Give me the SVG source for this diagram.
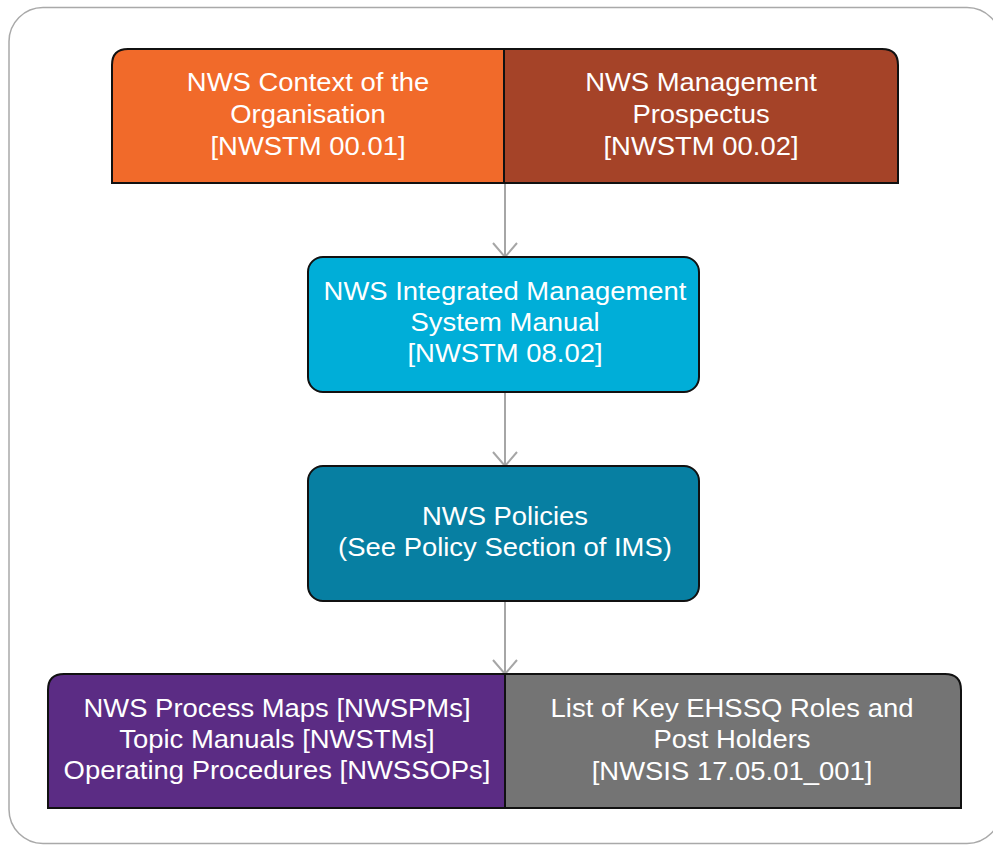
<svg xmlns="http://www.w3.org/2000/svg" width="993" height="845" viewBox="0 0 993 845">
  <defs>
    <style>
      .frame { fill: #ffffff; stroke: #a9a9a9; stroke-width: 1.5; }
      .box { stroke: #111111; stroke-width: 2; }
      .lbl { font-family: "Liberation Sans", Arial, Helvetica, sans-serif; font-size: 26px; fill: #ffffff; text-anchor: middle; }
      .conn { stroke: #a6a6a6; stroke-width: 2; fill: none; }
    </style>
  </defs>

  <!-- outer frame -->
  <rect class="frame" x="9" y="7.5" width="992" height="836" rx="34" ry="34"/>

  <!-- connectors: vertical lines with open V heads -->
  <g id="connectors">
    <line class="conn" x1="505" y1="183" x2="505" y2="257"/>
    <line class="conn" x1="505" y1="392" x2="505" y2="466"/>
    <line class="conn" x1="505" y1="601" x2="505" y2="674"/>
    <path class="conn" d="M493,243 L505,257 L517,243"/>
    <path class="conn" d="M493,452 L505,466 L517,452"/>
    <path class="conn" d="M493,660 L505,674 L517,660"/>
  </g>

  <!-- top pair -->
  <g id="context">
    <path class="box" fill="#f16a2a" d="M504,49 L128,49 Q112,49 112,65 L112,183 L504,183 Z"/>
    <g transform="translate(308,0) scale(1.055,1)">
      <text class="lbl" x="0" y="91">NWS Context of the</text>
      <text class="lbl" x="0" y="123">Organisation</text>
      <text class="lbl" x="0" y="155">[NWSTM 00.01]</text>
    </g>
  </g>
  <g id="prospectus">
    <path class="box" fill="#a54328" d="M504,49 L882,49 Q898,49 898,65 L898,183 L504,183 Z"/>
    <g transform="translate(701,0) scale(1.055,1)">
      <text class="lbl" x="0" y="91">NWS Management</text>
      <text class="lbl" x="0" y="123">Prospectus</text>
      <text class="lbl" x="0" y="155">[NWSTM 00.02]</text>
    </g>
  </g>

  <!-- manual -->
  <g id="ims-manual">
    <rect class="box" fill="#00aed8" x="308" y="257" width="391" height="135" rx="15" ry="15"/>
    <g transform="translate(505,0) scale(1.055,1)">
      <text class="lbl" x="0" y="300">NWS Integrated Management</text>
      <text class="lbl" x="0" y="331">System Manual</text>
      <text class="lbl" x="0" y="362">[NWSTM 08.02]</text>
    </g>
  </g>

  <!-- policies -->
  <g id="policies">
    <rect class="box" fill="#077fa2" x="308" y="466" width="391" height="135" rx="15" ry="15"/>
    <g transform="translate(505,0) scale(1.055,1)">
      <text class="lbl" x="0" y="525">NWS Policies</text>
      <text class="lbl" x="0" y="556">(See Policy Section of IMS)</text>
    </g>
  </g>

  <!-- bottom pair -->
  <g id="process-docs">
    <path class="box" fill="#5b2c84" d="M505,674 L64,674 Q48,674 48,690 L48,808 L505,808 Z"/>
    <g transform="translate(277,0) scale(1.055,1)">
      <text class="lbl" x="0" y="717">NWS Process Maps [NWSPMs]</text>
      <text class="lbl" x="0" y="748">Topic Manuals [NWSTMs]</text>
      <text class="lbl" x="0" y="779">Operating Procedures [NWSSOPs]</text>
    </g>
  </g>
  <g id="key-roles">
    <path class="box" fill="#747474" d="M505,674 L945,674 Q961,674 961,690 L961,808 L505,808 Z"/>
    <g transform="translate(732,0) scale(1.055,1)">
      <text class="lbl" x="0" y="717">List of Key EHSSQ Roles and</text>
      <text class="lbl" x="0" y="748">Post Holders</text>
      <text class="lbl" x="0" y="780">[NWSIS 17.05.01_001]</text>
    </g>
  </g>
</svg>
